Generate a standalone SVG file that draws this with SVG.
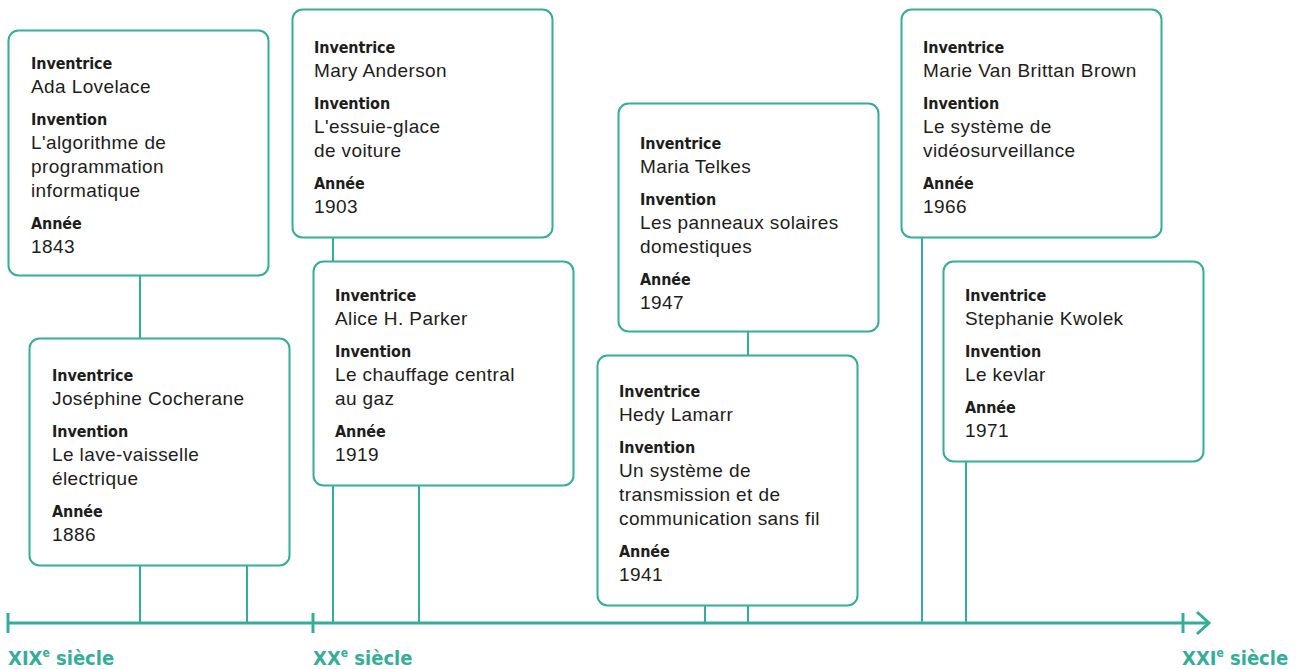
<svg xmlns="http://www.w3.org/2000/svg" width="1299" height="669" viewBox="0 0 1299 669">
<style>
.box{fill:#fff;stroke:#34ae99;stroke-width:2}
.ln{stroke:#34ae99;stroke-width:2;fill:none}
.ax{stroke:#34ae99;stroke-width:3;fill:none}
.lb{font-family:"DejaVu Sans Condensed","Liberation Sans",sans-serif;font-weight:bold;font-size:16px;letter-spacing:-0.1px;fill:#1d1d1b}
.v{font-family:"Liberation Sans",Arial,sans-serif;font-size:19px;letter-spacing:0.4px;fill:#1d1d1b}
.c{font-family:"DejaVu Sans Condensed","Liberation Sans",sans-serif;font-weight:bold;font-size:20px;fill:#34ae99}
.sup{font-size:12px}
</style>
<rect width="1299" height="669" fill="#fff"/>
<g id="connectors">
<line class="ln" x1="140" y1="276" x2="140" y2="338"/>
<line class="ln" x1="140" y1="566" x2="140" y2="623"/>
<line class="ln" x1="247" y1="566" x2="247" y2="623"/>
<line class="ln" x1="333" y1="238" x2="333" y2="261"/>
<line class="ln" x1="333" y1="486" x2="333" y2="623"/>
<line class="ln" x1="419" y1="486" x2="419" y2="623"/>
<line class="ln" x1="748" y1="332" x2="748" y2="355"/>
<line class="ln" x1="748" y1="606" x2="748" y2="623"/>
<line class="ln" x1="705" y1="606" x2="705" y2="623"/>
<line class="ln" x1="922" y1="238" x2="922" y2="623"/>
<line class="ln" x1="966" y1="462" x2="966" y2="623"/>
</g>
<g id="axis">
<line class="ax" x1="8" y1="623" x2="1209" y2="623"/>
<line class="ax" x1="8" y1="613" x2="8" y2="633"/>
<line class="ax" x1="313" y1="613" x2="313" y2="633"/>
<line class="ax" x1="1183" y1="613" x2="1183" y2="633"/>
<polyline class="ax" points="1197,612 1209,623 1197,634"/>
<text class="c" x="8" y="665">XIX<tspan class="sup" dy="-8">e</tspan><tspan dy="8"> siècle</tspan></text>
<text class="c" x="313" y="665">XX<tspan class="sup" dy="-8">e</tspan><tspan dy="8"> siècle</tspan></text>
<text class="c" x="1182" y="665">XXI<tspan class="sup" dy="-8">e</tspan><tspan dy="8"> siècle</tspan></text>
</g>
<g id="n1">
<rect class="box" x="8.5" y="30.5" width="260" height="245" rx="10"/>
<text class="lb" x="31" y="69">Inventrice</text>
<text class="v" x="31" y="93">Ada Lovelace</text>
<text class="lb" x="31" y="125">Invention</text>
<text class="v" x="31" y="149">L'algorithme de</text>
<text class="v" x="31" y="173">programmation</text>
<text class="v" x="31" y="197">informatique</text>
<text class="lb" x="31" y="229">Année</text>
<text class="v" x="31" y="253">1843</text>
</g>
<g id="n2">
<rect class="box" x="29.5" y="338.5" width="260" height="227" rx="10"/>
<text class="lb" x="52" y="381">Inventrice</text>
<text class="v" x="52" y="405">Joséphine Cocherane</text>
<text class="lb" x="52" y="437">Invention</text>
<text class="v" x="52" y="461">Le lave-vaisselle</text>
<text class="v" x="52" y="485">électrique</text>
<text class="lb" x="52" y="517">Année</text>
<text class="v" x="52" y="541">1886</text>
</g>
<g id="n3">
<rect class="box" x="292.5" y="9.5" width="260" height="228" rx="10"/>
<text class="lb" x="314" y="53">Inventrice</text>
<text class="v" x="314" y="77">Mary Anderson</text>
<text class="lb" x="314" y="109">Invention</text>
<text class="v" x="314" y="133">L'essuie-glace</text>
<text class="v" x="314" y="157">de voiture</text>
<text class="lb" x="314" y="189">Année</text>
<text class="v" x="314" y="213">1903</text>
</g>
<g id="n4">
<rect class="box" x="313.5" y="261.5" width="260" height="224" rx="10"/>
<text class="lb" x="335" y="301">Inventrice</text>
<text class="v" x="335" y="325">Alice H. Parker</text>
<text class="lb" x="335" y="357">Invention</text>
<text class="v" x="335" y="381">Le chauffage central</text>
<text class="v" x="335" y="405">au gaz</text>
<text class="lb" x="335" y="437">Année</text>
<text class="v" x="335" y="461">1919</text>
</g>
<g id="n5">
<rect class="box" x="618.5" y="103.5" width="260" height="228" rx="10"/>
<text class="lb" x="640" y="149">Inventrice</text>
<text class="v" x="640" y="173">Maria Telkes</text>
<text class="lb" x="640" y="205">Invention</text>
<text class="v" x="640" y="229">Les panneaux solaires</text>
<text class="v" x="640" y="253">domestiques</text>
<text class="lb" x="640" y="285">Année</text>
<text class="v" x="640" y="309">1947</text>
</g>
<g id="n6">
<rect class="box" x="597.5" y="355.5" width="260" height="250" rx="10"/>
<text class="lb" x="619" y="397">Inventrice</text>
<text class="v" x="619" y="421">Hedy Lamarr</text>
<text class="lb" x="619" y="453">Invention</text>
<text class="v" x="619" y="477">Un système de</text>
<text class="v" x="619" y="501">transmission et de</text>
<text class="v" x="619" y="525">communication sans fil</text>
<text class="lb" x="619" y="557">Année</text>
<text class="v" x="619" y="581">1941</text>
</g>
<g id="n7">
<rect class="box" x="901.5" y="9.5" width="260" height="228" rx="10"/>
<text class="lb" x="923" y="53">Inventrice</text>
<text class="v" x="923" y="77">Marie Van Brittan Brown</text>
<text class="lb" x="923" y="109">Invention</text>
<text class="v" x="923" y="133">Le système de</text>
<text class="v" x="923" y="157">vidéosurveillance</text>
<text class="lb" x="923" y="189">Année</text>
<text class="v" x="923" y="213">1966</text>
</g>
<g id="n8">
<rect class="box" x="943.5" y="261.5" width="260" height="200" rx="10"/>
<text class="lb" x="965" y="301">Inventrice</text>
<text class="v" x="965" y="325">Stephanie Kwolek</text>
<text class="lb" x="965" y="357">Invention</text>
<text class="v" x="965" y="381">Le kevlar</text>
<text class="lb" x="965" y="413">Année</text>
<text class="v" x="965" y="437">1971</text>
</g>
</svg>
